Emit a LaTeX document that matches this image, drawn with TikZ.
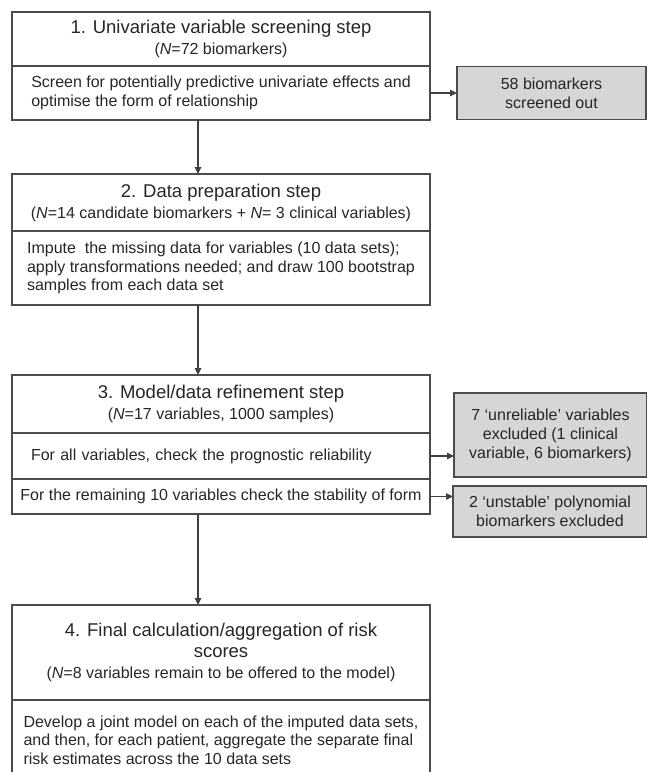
\documentclass[tikz,border=0pt]{standalone}
\usepackage{fontspec}
\setmainfont{Liberation Sans}
\usetikzlibrary{positioning,arrows.meta}
\tikzset{
  part/.style = {draw=black!70, line width=1.2pt, minimum width=418pt, outer sep=0pt,
                 inner sep=0pt, text=black!85},
  head/.style = {part, align=center, font=\fontsize{16}{21}\selectfont},
  body/.style = {part, align=left, font=\fontsize{16}{18.5}\selectfont},
  dropbox/.style = {draw=black!70, fill=black!16, line width=1.2pt, outer sep=0pt, inner sep=0pt,
                 align=center, text=black!85, font=\fontsize{16}{19}\selectfont},
  arr/.style  = {draw=black!75, line width=1.2pt, -{Triangle[length=7pt,width=6.5pt]}}
}
\newcommand{\ttl}[1]{{\fontsize{18.5}{21}\selectfont #1}}
\begin{document}
\begin{tikzpicture}[x=1pt, y=-1pt]
  \useasboundingbox (0,0) rectangle (647,772);
  \clip (0,0) rectangle (647,772);
  \coordinate (ax) at (198,0);

  \node[head, anchor=north west, minimum height=54pt] (h1) at (12,12)
    {\ttl{1. Univariate variable screening step}\\(\textit{N}=72 biomarkers)};
  \node[body, below=0pt of h1, minimum height=54pt] (b1)
    {Screen for potentially predictive univariate effects and\\optimise the form of relationship};
  \node[dropbox, right=27pt of b1, minimum width=189pt, minimum height=53pt] (g1)
    {58 biomarkers\\screened out};

  \node[head, below=54pt of b1, minimum height=57pt] (h2)
    {\ttl{2. Data preparation step}\\(\textit{N}=14 candidate biomarkers + \textit{N}= 3 clinical variables)};
  \node[body, below=0pt of h2, minimum height=74pt] (b2)
    {Impute\ \ the missing data for variables (10 data sets);\\apply transformations needed; and draw 100 bootstrap\\samples from each data set};

  \node[head, below=70pt of b2, minimum height=58pt] (h3)
    {\ttl{3. Model/data refinement step}\\(\textit{N}=17 variables, 1000 samples)};
  \node[body, below=0pt of h3, minimum height=46pt, text width=380pt] (b3a)
    {For all variables, check the prognostic reliability};
  \node[body, below=0pt of b3a, minimum height=35pt] (b3b)
    {For the remaining 10 variables check the stability of form};
  \node[dropbox, anchor=north west, minimum width=193pt, minimum height=84pt] (gA) at (454,393)
    {7 `unreliable' variables\\excluded (1 clinical\\variable, 6 biomarkers)};
  \node[dropbox, anchor=north west, minimum width=194pt, minimum height=51pt] (gB) at (453,486)
    {2 `unstable' polynomial\\biomarkers excluded};

  \node[head, below=91pt of b3b, minimum height=95pt] (h4)
    {\ttl{4. Final calculation/aggregation of risk}\\\ttl{scores}\\(\textit{N}=8 variables remain to be offered to the model)};
  \node[body, below=0pt of h4, minimum height=80pt] (b4)
    {Develop a joint model on each of the imputed data sets,\\and then, for each patient, aggregate the separate final\\risk estimates across the 10 data sets};

  \draw[arr] (b1.east) -- (g1.west);
  \draw[arr] (b3a.east) -- (b3a.east -| gA.west);
  \draw[arr] (b3b.east) -- (b3b.east -| gB.west);
  \draw[arr] (b1.south -| ax) -- (h2.north -| ax);
  \draw[arr] (b2.south -| ax) -- (h3.north -| ax);
  \draw[arr] (b3b.south -| ax) -- (h4.north -| ax);
\end{tikzpicture}
\end{document}
